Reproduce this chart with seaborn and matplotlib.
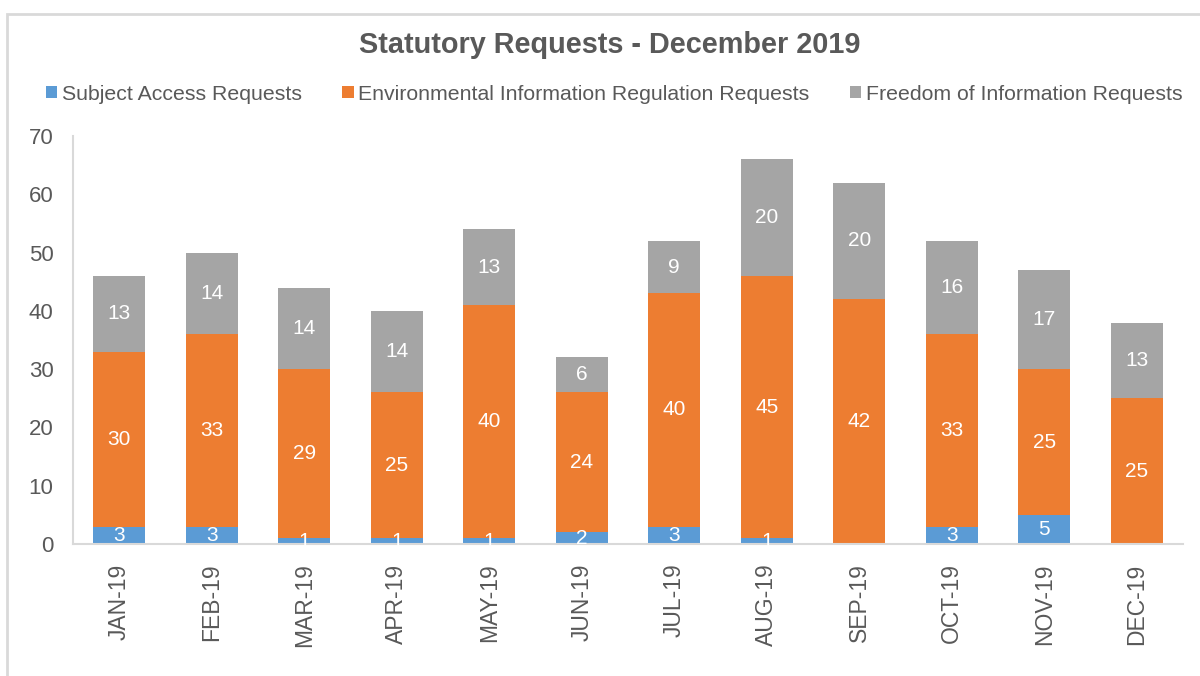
import pandas as pd
import numpy as np
import matplotlib
matplotlib.use('Agg')
import matplotlib.pyplot as plt
import seaborn as sns
from matplotlib.patches import Rectangle, Patch

# Chart data
months = ['JAN-19', 'FEB-19', 'MAR-19', 'APR-19', 'MAY-19', 'JUN-19',
          'JUL-19', 'AUG-19', 'SEP-19', 'OCT-19', 'NOV-19', 'DEC-19']
subject_access = [3, 3, 1, 1, 1, 2, 3, 1, 0, 3, 5, 0]
environmental_info = [30, 33, 29, 25, 40, 24, 40, 45, 42, 33, 25, 25]
freedom_of_info = [13, 14, 14, 14, 13, 6, 9, 20, 20, 16, 17, 13]

series_names = ['Subject Access Requests',
                'Environmental Information Regulation Requests',
                'Freedom of Information Requests']
colors = ['#5B9BD5', '#ED7D31', '#A5A5A5']
text_color = '#595959'
axis_color = '#D9D9D9'

df = pd.DataFrame({'month': months,
                   'sar': subject_access,
                   'eir': environmental_info,
                   'foi': freedom_of_info})
df['lvl1'] = df['sar']
df['lvl2'] = df['sar'] + df['eir']
df['lvl3'] = df['lvl2'] + df['foi']

sns.set_style('white')
plt.rcParams['font.family'] = ['Liberation Sans', 'DejaVu Sans']

fig = plt.figure(figsize=(12, 6.76), dpi=100)
ax = fig.add_axes([73 / 1200, 1 - 544 / 676, 1110 / 1200, 408 / 676])

# stacked bars: draw cumulative totals from the top layer down
for col, c in zip(['lvl3', 'lvl2', 'lvl1'], colors[::-1]):
    sns.barplot(data=df, x='month', y=col, color=c, width=0.56,
                saturation=1, linewidth=0, ax=ax)

n = len(months)
blue_bars = ax.patches[2 * n:3 * n]

# value labels in the middle of each segment
for i in range(n):
    segs = [(df['sar'][i], 0), (df['eir'][i], df['lvl1'][i]), (df['foi'][i], df['lvl2'][i])]
    for k, (val, base) in enumerate(segs):
        if val == 0:
            continue
        t = ax.text(i, base + val / 2, str(val), ha='center', va='center',
                    color='white', fontsize=15)
        if k == 0:
            t.set_clip_path(blue_bars[i])

ax.set_xlim(-0.5, n - 0.5)
ax.set_ylim(0, 70)
ax.set_yticks(range(0, 71, 10))
ax.set_xlabel('')
ax.set_ylabel('')

# category-boundary ticks on the x axis, as in the original
ax.set_xticks(np.arange(n))
ax.set_xticklabels(months, rotation=90, fontsize=16.5, color=text_color)
ax.set_xticks(np.arange(-0.5, n, 1), minor=True)
ax.tick_params(axis='x', which='major', length=0, pad=14)
ax.tick_params(axis='x', which='minor', length=6, width=1.2, color=axis_color)
ax.tick_params(axis='y', length=6, width=1.2, color=axis_color,
               labelsize=16, labelcolor=text_color, pad=8)

for side in ['top', 'right']:
    ax.spines[side].set_visible(False)
for side in ['left', 'bottom']:
    ax.spines[side].set_color(axis_color)
    ax.spines[side].set_linewidth(1.5)

fig.text(610 / 1200, 1 - 45 / 676, 'Statutory Requests - December 2019',
         ha='center', va='center', fontsize=20.8, fontweight='bold', color=text_color)

handles = [Patch(facecolor=c, edgecolor='none') for c in colors]
fig.legend(handles, series_names, loc='center', ncol=3, frameon=False,
           bbox_to_anchor=(614 / 1200, 1 - 94 / 676), fontsize=15.3,
           labelcolor=text_color, handlelength=0.55, handleheight=0.55,
           handletextpad=0.2, columnspacing=1.9)

# outer chart border (open at the right)
fig.patches.append(Rectangle((7 / 1200, -0.01), 1.05, 1 - 14 / 676 + 0.01,
                             transform=fig.transFigure, fill=False,
                             edgecolor='#D9D9D9', linewidth=2))

fig.savefig('out.png', dpi=100)
